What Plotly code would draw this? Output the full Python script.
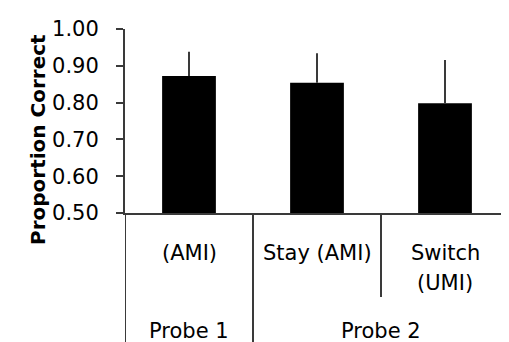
import plotly.graph_objects as go

categories = ["(AMI)", "Stay (AMI)", "Switch (UMI)"]
cat_lines = [["(AMI)"], ["Stay (AMI)"], ["Switch", "(UMI)"]]
values = [0.872, 0.854, 0.798]
err_up = [0.066, 0.080, 0.118]
groups = ["Probe 1", "Probe 2"]
group_pos = [0, 1.5]
tick_vals = [0.5, 0.6, 0.7, 0.8, 0.9, 1.0]
tick_text = ["0.50", "0.60", "0.70", "0.80", "0.90", "1.00"]

# page has an 8px body margin; compensate so the picture lands on the window
OFF = 8
W, H = 509 - OFF, 342 - OFF
ML, MR, MT, MB = 125 - OFF, 0, 29 - OFF, 342 - 213
ph = H - MT - MB
pw = W - ML - MR

def py(pix):
    # window pixel row -> paper y
    return (H - MB - (pix - OFF)) / ph

def px(pix):
    return (pix - OFF - ML) / pw

FONT = "DejaVu Sans"
LINE = "#3a3a3a"

fig = go.Figure()
fig.add_trace(go.Bar(
    x=list(range(len(categories))), y=values,
    marker=dict(color="black", line=dict(width=0)),
    width=0.42,
    error_y=dict(type="data", array=err_up, arrayminus=[0] * len(values),
                 symmetric=False, width=0, thickness=2, color=LINE),
))

annotations = []
for i, lines in enumerate(cat_lines):
    for j, t in enumerate(lines):
        annotations.append(dict(x=i, y=py(253 + 30 * j), xref="x", yref="paper",
                                text=t, showarrow=False,
                                font=dict(family=FONT, size=21, color="black"),
                                xanchor="center", yanchor="middle"))
for g, p in zip(groups, group_pos):
    annotations.append(dict(x=p, y=py(331), xref="x", yref="paper", text=g,
                            showarrow=False, font=dict(family=FONT, size=21, color="black"),
                            xanchor="center", yanchor="middle"))
annotations.append(dict(x=px(38), y=py(140), xref="paper", yref="paper",
                        text="<b>Proportion Correct</b>",
                        showarrow=False, textangle=-90,
                        font=dict(family=FONT, size=20, color="black"),
                        xanchor="center", yanchor="middle"))

shapes = []
for xd, ybot in [(-0.5, 350), (0.5, 350), (1.5, 297)]:
    shapes.append(dict(type="line", xref="x", yref="paper", x0=xd, x1=xd,
                       y0=0, y1=py(ybot), line=dict(color=LINE, width=2)))

fig.update_layout(
    width=W, height=H,
    margin=dict(l=ML, r=MR, t=MT, b=MB),
    plot_bgcolor="white", paper_bgcolor="white",
    showlegend=False,
    annotations=annotations, shapes=shapes,
    xaxis=dict(range=[-0.5, 2.5], showticklabels=False, showline=True,
               linecolor=LINE, linewidth=2, ticks="", showgrid=False, zeroline=False,
               fixedrange=True),
    yaxis=dict(range=[0.5, 1.0], tickvals=tick_vals, ticktext=tick_text,
               showline=True, linecolor=LINE, linewidth=2, ticks="outside",
               ticklen=7, tickwidth=2, tickcolor=LINE, showgrid=False, zeroline=False,
               ticklabelstandoff=13,
               tickfont=dict(family=FONT, size=21, color="black")),
)

fig.write_html("out.html")
